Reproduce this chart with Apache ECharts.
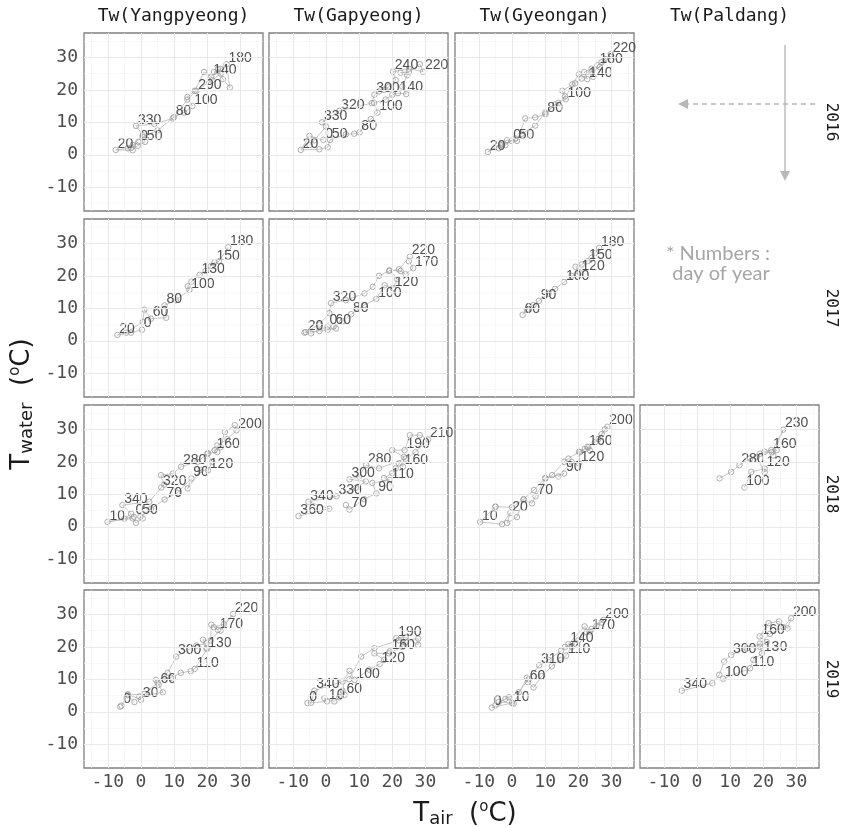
<!DOCTYPE html>
<html><head><meta charset="utf-8">
<script src="https://cdn.jsdelivr.net/npm/echarts@6/dist/echarts.min.js"></script>
<style>html,body{margin:0;padding:0;background:#fff}#c{width:846px;height:827px}</style>
</head><body><div id="c"></div>
<script>
// ---- categories / ticks ----
const columns = ['Tw(Yangpyeong)', 'Tw(Gapyeong)', 'Tw(Gyeongan)', 'Tw(Paldang)'];
const years = ['2016', '2017', '2018', '2019'];
const xTicks = [-10, 0, 10, 20, 30];
const yTicks = [-10, 0, 10, 20, 30];
const xMinor = [-15, -5, 5, 15, 25, 35];
const yMinor = [-15, -5, 5, 15, 25, 35];

// ---- data: [Tair, Twater, day of year] ----
const yang2016 = [[-0.8,4.0,0],[-3,2.2,10],[-7.6,1.5,20],[-2.5,1.4,30],[-1,2.8,40],[1.2,4.0,50],[0.5,5.5,60],[5,7.5,70],[9.9,11.6,80],[13,13,90],[15.5,15,100],[14,17.8,110],[16.2,19.7,120],[19,25.5,130],[21.2,24.1,140],[23.2,26.4,150],[24.7,23.3,160],[26.8,20.7,170],[25.8,27.9,180],[24,26.5,190],[22,25.5,210],[24,25,230],[21.5,23,260],[16.7,19.7,290],[14,17,300],[9.6,11.2,310],[4,9.5,320],[-1.5,8.9,330],[0.5,6,340],[-2.5,3,350],[-4,2,360]];
const yang2016Labels = [0,20,50,80,100,140,180,290,330];

const gap2016 = [[-0.8,4.6,0],[-5,5.8,10],[-7.6,1.5,20],[-2,1.7,30],[0.5,2.3,40],[1.2,4.6,50],[6,6.3,60],[8.5,6.5,70],[10.1,6.9,80],[13.5,11,90],[15.5,13,100],[14.5,16,110],[18,17,120],[20,18.5,130],[21.7,19,140],[24.2,18.7,150],[23,21,160],[24.5,24.5,170],[22.5,25.3,180],[25,25.5,190],[28.3,27.9,200],[29.3,25.6,220],[25,26.5,230],[20.2,25.6,240],[21,23,250],[19,21,260],[17.5,20,270],[16,19.5,280],[14.6,18.5,300],[13.8,15.9,310],[4,13.5,320],[-1.2,10,330],[0,8.7,340],[-3.5,4.5,350],[-5,3,360]];
const gap2016Labels = [0,20,50,80,100,140,220,240,300,320,330];

const gyeong2016 = [[-0.2,4.3,0],[-3,3,10],[-7.3,0.9,20],[-3,3.5,30],[-1.5,4.5,40],[1.5,4.3,50],[4,11.2,60],[7,11.5,70],[10.1,12.5,80],[13,15.5,90],[16.2,17.1,100],[15.2,19.7,110],[18.2,21.7,120],[20.2,24.8,130],[22.7,23.3,140],[21.8,25.5,150],[24,26.5,160],[24.5,24,170],[25.8,27.6,180],[27,28.5,190],[28,29.5,200],[29.8,31,220],[26.5,27,230],[24,25.5,240],[21,23.5,260],[19,22,270],[16,18,290],[14,16,300],[10,13,310],[7,9,320],[3,6.5,330],[1,5,340],[-2,3,350],[-4,2,360]];
const gyeong2016Labels = [0,20,50,80,100,140,180,220];

const yang2017 = [[0.3,3.4,0],[-3,2.5,10],[-7.1,1.8,20],[-4.5,2.5,30],[0.5,5.8,40],[1,9.6,50],[3,6.8,60],[7.6,7.1,70],[7.1,10.9,80],[10.5,12.5,90],[14.6,15.7,100],[14.1,16.8,110],[15.2,18.2,120],[17.7,20.3,130],[19.5,21.5,140],[22.2,24.2,150],[21,23,160],[23.5,24.5,170],[26.3,28.8,180]];
const yang2017Labels = [0,20,60,80,100,130,150,180];

const gap2017 = [[0.5,4.4,0],[-4.5,2.3,10],[-6.1,2.7,20],[-2,3,30],[0.5,3.4,40],[3,3.8,50],[2.3,4.4,60],[5,6,70],[7.6,8.2,80],[11.5,11,90],[15.2,12.9,100],[17.7,17.1,110],[20.2,16.2,120],[21.5,19,130],[19.2,21.7,140],[22.5,21.5,150],[24,20.5,160],[26.3,22.4,170],[25,24.5,190],[25.3,25.9,220],[22,22,240],[19,21.5,260],[16,20,280],[14.1,16.6,290],[11.6,14.6,300],[6,12.5,310],[1.5,11.6,320],[1,8.5,330],[-2,5,345],[-6.5,2.5,360]];
const gap2017Labels = [0,20,60,80,100,120,170,220,320];

const gyeong2017 = [[3.2,8,60],[4.5,9.5,70],[6.5,11,80],[8.1,12.3,90],[11,14.5,93],[13,16,96],[15.7,18.1,100],[18,20,110],[20.4,21.1,120],[19.2,22.8,130],[21,23.5,140],[22.7,24.5,150],[24,25.5,160],[25,27,170],[26.3,28.6,180]];
const gyeong2017Labels = [60,90,100,120,150,180];

const yang2018 = [[-2.2,3.1,0],[-10.1,1.5,10],[-2.5,2.6,20],[-1.5,1.2,30],[0.5,2.6,40],[-0.2,3.1,50],[3,5.5,60],[7.1,8.4,70],[11,10.5,80],[15.2,14.9,90],[14.1,11.8,100],[18,17.5,110],[20.2,17.4,120],[21.5,20,130],[20,22.5,140],[23,23,150],[22.2,23.6,160],[24,24.5,170],[25.3,29.2,180],[28.3,31.3,190],[28.8,29.7,200],[26,27,220],[23,25,240],[20.2,22.6,260],[17,20,270],[12.1,18.5,280],[9.6,16.4,290],[6,15.9,300],[7,13,310],[6.1,12.1,320],[2.5,7.7,330],[-5.6,6.7,340],[-3,4,350],[-5,2.5,360]];
const yang2018Labels = [0,10,50,70,90,120,160,200,280,320,340];

const gap2018 = [[6,6.7,60],[7.1,5.3,70],[11.5,8.5,80],[15.2,10.3,90],[14,13.5,100],[19.2,14.4,110],[17.5,15,120],[20,16.5,130],[21,18,140],[22,19.5,150],[23.2,18.5,160],[23.5,21.5,170],[20,23.6,180],[23.7,23.6,190],[25.3,28.2,200],[28.3,28.2,205],[30.8,26.9,210],[27,23,230],[24,21,250],[16,18,270],[12.1,19,280],[10,15.5,290],[7.1,14.6,300],[12,14,310],[9,12,320],[3.2,9.4,330],[-5.3,7.7,340],[1,5.6,350],[-8.3,3.3,360]];
const gap2018Labels = [70,90,110,160,190,210,280,300,330,340,360];

const gyeong2018 = [[-5,6.2,0],[-9.6,1.5,10],[-3,0.8,15],[-0.5,4.3,20],[-1.5,1.2,30],[1.5,3,40],[3.5,8.4,50],[6,7.2,60],[7.1,9.4,70],[10.1,14.9,80],[15.7,16.4,90],[14,15.5,100],[18,20,110],[20.2,19.5,120],[20.5,23,130],[22,24,140],[23.5,23.5,150],[22.7,24.6,160],[25,26,170],[27,28.5,180],[28,30,190],[28.8,30.8,200],[26,27,220],[23,24.5,240],[20.2,23.1,260],[17,21,270],[15.7,20,280],[12.1,15.9,290],[10,15,300],[6.6,11.3,310],[3.5,8.5,320],[0,6,340],[-5,6.2,360]];
const gyeong2018Labels = [10,20,70,90,120,160,200];

const pal2018 = [[14.3,12.1,100],[16.4,16.9,110],[20.4,17.9,120],[20.4,16.8,130],[18,21.5,140],[20.4,23.1,150],[22.4,23.6,160],[24,23.6,170],[23,22,180],[26,29.9,230],[22.5,23,240],[19,22.5,250],[16,21,270],[12.8,19,280],[10.3,16.9,290],[6.8,14.9,300]];
const pal2018Labels = [100,120,160,230,280];

const yang2019 = [[-5.9,1.9,0],[-6.3,1.6,10],[-4,5.4,20],[0,3.7,30],[-0.5,4.7,40],[6.6,6,50],[5.3,8.3,60],[4.5,9.8,70],[9,10.5,80],[12,12,90],[15,12.5,100],[16.2,13.2,110],[20,19.5,120],[19.7,19.4,130],[18.7,22.2,140],[21,22,150],[21.2,26.8,160],[23.2,25.2,170],[22,26,180],[25,27,200],[27.8,30.1,220],[24,25,240],[19.7,21.1,260],[16.7,20.4,280],[10.6,17,300],[8,12,310],[5,9,320],[1,5.5,330],[-4,5.2,340],[-2,3,350]];
const yang2019Labels = [0,30,60,110,130,170,220,300];

const gap2019 = [[-5.6,2.7,0],[0.3,3.2,10],[-0.5,4.2,20],[2.5,3.2,30],[4,4.5,40],[5,6.5,50],[5.6,5.2,60],[5,9.3,70],[7.1,12.6,80],[8.6,9.8,100],[13,13,110],[16.2,14.7,120],[17.5,16,130],[14.6,18,140],[19,18,150],[19.2,18.6,160],[23,20,170],[24,21.5,180],[21.2,22.7,190],[24,23,200],[27.8,20.6,210],[27.8,22.5,220],[22,22,240],[14.6,19.6,260],[10.6,17,280],[7,10,320],[-3.5,6.5,340],[-4.5,2.8,360]];
const gap2019Labels = [0,10,60,100,120,160,190,340];

const gyeong2019 = [[-6.1,1.3,0],[0,2.7,10],[-4,3,20],[-1,4.5,30],[0.5,2.5,40],[4.5,10.5,50],[4.8,9.1,60],[6.5,7.5,70],[9,11,80],[12,14,90],[14.8,16,100],[16.3,17.3,110],[18,20,120],[19,21,130],[17,20.8,140],[21.9,26.3,150],[22.5,24.5,160],[23.5,24.7,170],[25.5,26.5,180],[27,27.5,190],[27.6,28.3,200],[24,25.5,230],[20,22,260],[16,20,280],[14.8,18.8,290],[11,16,300],[8.2,14.3,310],[5,10,320],[2,6,330],[-2,4,340],[-5,2,355]];
const gyeong2019Labels = [0,10,60,110,140,170,200,310];

const pal2019 = [[7.9,10.2,100],[16,13.4,110],[17,16,120],[19.6,18,130],[19,20,140],[21,21.5,150],[18.9,23.2,160],[21.6,27.3,170],[24.7,27.8,180],[27.3,25.7,190],[28.4,28.8,200],[26,26,210],[22,24,230],[19,21,260],[15,19.5,280],[10.3,17.5,300],[8.2,15.5,310],[6.7,11.4,320],[4.6,8.8,330],[-4.6,6.5,340]];
const pal2019Labels = [100,110,130,160,200,300,340];

const panels = [
  {row:0,col:0,data:yang2016,labels:yang2016Labels},
  {row:0,col:1,data:gap2016,labels:gap2016Labels},
  {row:0,col:2,data:gyeong2016,labels:gyeong2016Labels},
  {row:1,col:0,data:yang2017,labels:yang2017Labels},
  {row:1,col:1,data:gap2017,labels:gap2017Labels},
  {row:1,col:2,data:gyeong2017,labels:gyeong2017Labels},
  {row:2,col:0,data:yang2018,labels:yang2018Labels},
  {row:2,col:1,data:gap2018,labels:gap2018Labels},
  {row:2,col:2,data:gyeong2018,labels:gyeong2018Labels},
  {row:2,col:3,data:pal2018,labels:pal2018Labels},
  {row:3,col:0,data:yang2019,labels:yang2019Labels},
  {row:3,col:1,data:gap2019,labels:gap2019Labels},
  {row:3,col:2,data:gyeong2019,labels:gyeong2019Labels},
  {row:3,col:3,data:pal2019,labels:pal2019Labels}
];

// ---- layout ----
const colLeft = [84, 269, 455, 640];
const rowTop = [33, 219, 405, 590];
const PW = 179, PH = 178;
const X_MIN = -17.2, X_MAX = 36.8, Y_MIN = -17.3, Y_MAX = 37.5;
const MONO = 'DejaVu Sans Mono';

const grid = [], xAxis = [], yAxis = [], series = [];
panels.forEach((p, i) => {
  grid.push({left: colLeft[p.col], top: rowTop[p.row], width: PW, height: PH,
    show: true, borderColor: '#808080', borderWidth: 1.3, backgroundColor: '#fff',
    containLabel: false, outerBoundsMode: 'none'});
  const showX = p.row === 3, showY = p.col === 0;
  xAxis.push({gridIndex: i, type: 'value', min: X_MIN, max: X_MAX,
    axisLine: {show: false}, splitLine: {show: false},
    axisTick: {show: showX, customValues: xTicks, length: 4, lineStyle: {color: '#333', width: 1}},
    axisLabel: {show: showX, customValues: xTicks, fontFamily: MONO, fontSize: 18, color: '#4d4d4d', margin: 5}});
  yAxis.push({gridIndex: i, type: 'value', min: Y_MIN, max: Y_MAX,
    axisLine: {show: false}, splitLine: {show: false},
    axisTick: {show: showY, customValues: yTicks, length: 4, lineStyle: {color: '#333', width: 1}},
    axisLabel: {show: showY, customValues: yTicks, fontFamily: MONO, fontSize: 18, color: '#4d4d4d', margin: 6}});
  const gl = [];
  xMinor.forEach(v => gl.push({xAxis: v, lineStyle: {color: '#f4f4f4', width: 0.6}}));
  yMinor.forEach(v => gl.push({yAxis: v, lineStyle: {color: '#f4f4f4', width: 0.6}}));
  xTicks.forEach(v => gl.push({xAxis: v, lineStyle: {color: '#e9e9e9', width: 1}}));
  yTicks.forEach(v => gl.push({yAxis: v, lineStyle: {color: '#e9e9e9', width: 1}}));
  series.push({type: 'line', xAxisIndex: i, yAxisIndex: i, data: [], z: 1, silent: true,
    markLine: {silent: true, symbol: 'none', animation: false, label: {show: false},
      lineStyle: {type: 'solid'}, data: gl}});
  series.push({type: 'line', xAxisIndex: i, yAxisIndex: i, z: 3,
    data: p.data.map(d => ({value: [d[0], d[1]], name: p.labels.includes(d[2]) ? String(d[2]) : ''})),
    symbol: 'circle', symbolSize: 5.5, showAllSymbol: true,
    itemStyle: {color: 'rgba(255,255,255,0)', borderColor: '#9a9a9a', borderWidth: 0.8},
    lineStyle: {color: '#b8b8b8', width: 0.8},
    label: {show: true, formatter: q => q.name, position: [5, 4], align: 'left', verticalAlign: 'bottom',
      fontFamily: 'Liberation Sans', fontSize: 14, color: '#505050'},
    emphasis: {disabled: true}, animation: false});
});

const graphic = [];
columns.forEach((c, i) => graphic.push({type: 'text',
  x: colLeft[i] + PW / 2, y: 16,
  style: {text: c, fontFamily: MONO, fontSize: 18, fill: '#1a1a1a', align: 'center', verticalAlign: 'middle'}}));
years.forEach((y, i) => graphic.push({type: 'text', x: 831, y: rowTop[i] + PH / 2, rotation: -Math.PI / 2,
  style: {text: y, fontFamily: MONO, fontSize: 16, fill: '#1a1a1a', align: 'center', verticalAlign: 'middle'}}));
const rich = {
  t: {fontFamily: 'DejaVu Sans', fontSize: 26, fill: '#1a1a1a'},
  s: {fontFamily: 'DejaVu Sans', fontSize: 18, fill: '#1a1a1a', padding: [11, 0, 0, 0]},
  o: {fontFamily: 'DejaVu Sans', fontSize: 15, fill: '#1a1a1a', padding: [0, 0, 13, 0]}
};
graphic.push({type: 'text', x: 22, y: 404, rotation: Math.PI / 2,
  style: {text: '{t|T}{s|water}{t|  (}{o|o}{t|C)}', rich: rich, align: 'center', verticalAlign: 'middle'}});
graphic.push({type: 'text', x: 465, y: 814,
  style: {text: '{t|T}{s|air}{t|  (}{o|o}{t|C)}', rich: rich, align: 'center', verticalAlign: 'middle'}});
// annotation
graphic.push({type: 'text', x: 718, y: 254,
  style: {text: '* Numbers :', fontFamily: 'Lato', fontSize: 20, fill: '#a6a6a6', align: 'center', verticalAlign: 'middle'}});
graphic.push({type: 'text', x: 721, y: 274,
  style: {text: 'day of year', fontFamily: 'Lato', fontSize: 20, fill: '#a6a6a6', align: 'center', verticalAlign: 'middle'}});
// arrows
graphic.push({type: 'line', shape: {x1: 815, y1: 104, x2: 684, y2: 104},
  style: {stroke: '#b8b8b8', lineWidth: 1.4, lineDash: [5, 4]}});
graphic.push({type: 'polygon', shape: {points: [[678, 104], [688, 99], [688, 109]]}, style: {fill: '#b8b8b8'}});
graphic.push({type: 'line', shape: {x1: 785, y1: 45, x2: 785, y2: 174},
  style: {stroke: '#b8b8b8', lineWidth: 1.4}});
graphic.push({type: 'polygon', shape: {points: [[785, 181], [780, 171], [790, 171]]}, style: {fill: '#b8b8b8'}});

const chart = echarts.init(document.getElementById('c'), null, {renderer: 'canvas'});
chart.setOption({animation: false, backgroundColor: '#fff', grid, xAxis, yAxis, series, graphic});
</script></body></html>
